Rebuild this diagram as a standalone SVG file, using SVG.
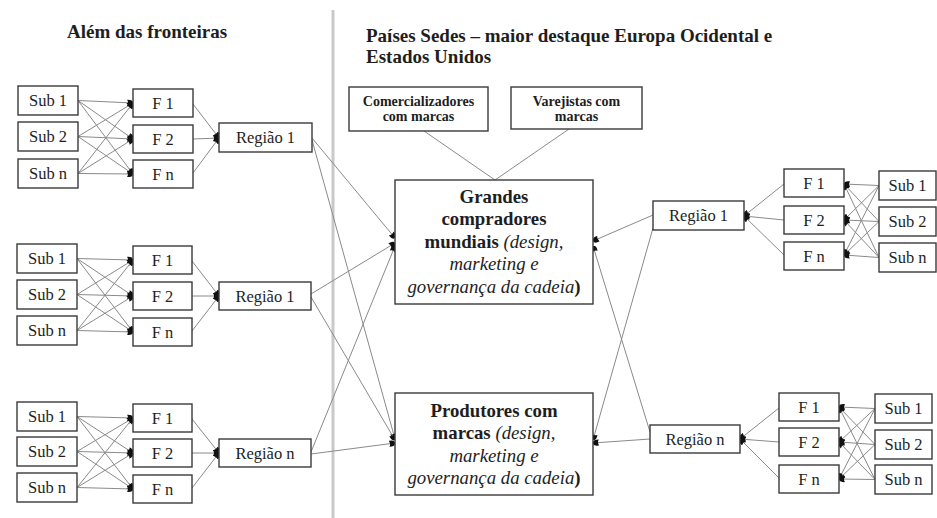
<svg xmlns="http://www.w3.org/2000/svg" width="937" height="518" viewBox="0 0 937 518">
<defs>
<style>
.bx{fill:#fff;stroke:#3a3a3a;stroke-width:1.4}
.t{font-family:"Liberation Serif","Times New Roman",serif;font-size:16.5px;fill:#1e1e1e;text-anchor:middle}
.h{font-family:"Liberation Serif","Times New Roman",serif;font-size:19px;font-weight:bold;fill:#1e1e1e}
.s{font-family:"Liberation Serif","Times New Roman",serif;font-size:14px;font-weight:bold;fill:#1e1e1e;text-anchor:middle}
.c{font-family:"Liberation Serif","Times New Roman",serif;font-size:18.8px;fill:#1e1e1e;text-anchor:middle}
.b{font-weight:bold}
.i{font-style:italic}
.ln line{stroke:#8a8a8a;stroke-width:1}
.ar{marker-end:url(#dot)}
</style>
<marker id="dot" viewBox="0 0 6 7" refX="6" refY="3.5" markerWidth="6" markerHeight="7" markerUnits="userSpaceOnUse" orient="auto">
<path d="M0,0.5 Q6,0 6,3.5 Q6,7 0,6.5 Q2,3.5 0,0.5 z" fill="#111"/>
</marker>
</defs>
<rect width="937" height="518" fill="#fff"/>

<line x1="333" y1="10" x2="333" y2="518" stroke="#c9c9c9" stroke-width="3"/>

<text class="h" x="67" y="38">Além das fronteiras</text>
<text class="h" x="366" y="42">Países Sedes – maior destaque Europa Ocidental e</text>
<text class="h" x="366" y="63">Estados Unidos</text>

<g class="ln" id="connectors">
<line class="ar" x1="78" y1="100.5" x2="133" y2="103"/>
<line class="ar" x1="78" y1="100.5" x2="133" y2="139"/>
<line class="ar" x1="78" y1="100.5" x2="133" y2="174"/>
<line class="ar" x1="78" y1="136.5" x2="133" y2="103"/>
<line class="ar" x1="78" y1="136.5" x2="133" y2="139"/>
<line class="ar" x1="78" y1="136.5" x2="133" y2="174"/>
<line class="ar" x1="78" y1="173.5" x2="133" y2="103"/>
<line class="ar" x1="78" y1="173.5" x2="133" y2="139"/>
<line class="ar" x1="78" y1="173.5" x2="133" y2="174"/>
<line class="ar" x1="193" y1="104" x2="219" y2="138"/>
<line class="ar" x1="193" y1="139" x2="219" y2="138"/>
<line class="ar" x1="193" y1="173" x2="219" y2="138"/>
<line class="ar" x1="77" y1="258.5" x2="133" y2="260"/>
<line class="ar" x1="77" y1="258.5" x2="133" y2="296"/>
<line class="ar" x1="77" y1="258.5" x2="133" y2="332"/>
<line class="ar" x1="77" y1="294.5" x2="133" y2="260"/>
<line class="ar" x1="77" y1="294.5" x2="133" y2="296"/>
<line class="ar" x1="77" y1="294.5" x2="133" y2="332"/>
<line class="ar" x1="77" y1="330.5" x2="133" y2="260"/>
<line class="ar" x1="77" y1="330.5" x2="133" y2="296"/>
<line class="ar" x1="77" y1="330.5" x2="133" y2="332"/>
<line class="ar" x1="192" y1="261" x2="219" y2="296"/>
<line class="ar" x1="192" y1="296" x2="219" y2="296"/>
<line class="ar" x1="192" y1="331" x2="219" y2="296"/>
<line class="ar" x1="77" y1="416.5" x2="133" y2="418"/>
<line class="ar" x1="77" y1="416.5" x2="133" y2="453"/>
<line class="ar" x1="77" y1="416.5" x2="133" y2="489"/>
<line class="ar" x1="77" y1="451.5" x2="133" y2="418"/>
<line class="ar" x1="77" y1="451.5" x2="133" y2="453"/>
<line class="ar" x1="77" y1="451.5" x2="133" y2="489"/>
<line class="ar" x1="77" y1="487.5" x2="133" y2="418"/>
<line class="ar" x1="77" y1="487.5" x2="133" y2="453"/>
<line class="ar" x1="77" y1="487.5" x2="133" y2="489"/>
<line class="ar" x1="192" y1="419" x2="219" y2="453"/>
<line class="ar" x1="192" y1="453" x2="219" y2="453"/>
<line class="ar" x1="192" y1="488" x2="219" y2="453"/>
<line class="ar" x1="312" y1="138" x2="395" y2="238"/>
<line class="ar" x1="312" y1="140" x2="395" y2="439"/>
<line class="ar" x1="311" y1="294" x2="395" y2="243"/>
<line class="ar" x1="311" y1="297" x2="395" y2="440"/>
<line class="ar" x1="311" y1="452" x2="395" y2="246"/>
<line class="ar" x1="311" y1="454" x2="395" y2="443"/>
<line x1="424" y1="131" x2="495" y2="180"/>
<line x1="569" y1="129" x2="495" y2="180"/>
<line class="ar" x1="653" y1="215" x2="593" y2="241"/>
<line class="ar" x1="653" y1="228" x2="593" y2="440"/>
<line class="ar" x1="650" y1="432" x2="593" y2="246"/>
<line class="ar" x1="650" y1="439" x2="593" y2="443"/>
<line class="ar" x1="784" y1="184" x2="744" y2="216"/>
<line class="ar" x1="784" y1="220" x2="744" y2="216"/>
<line class="ar" x1="784" y1="255" x2="744" y2="216"/>
<line class="ar" x1="879" y1="185.5" x2="844" y2="184"/>
<line class="ar" x1="879" y1="185.5" x2="844" y2="220"/>
<line class="ar" x1="879" y1="185.5" x2="844" y2="255"/>
<line class="ar" x1="879" y1="221.5" x2="844" y2="184"/>
<line class="ar" x1="879" y1="221.5" x2="844" y2="220"/>
<line class="ar" x1="879" y1="221.5" x2="844" y2="255"/>
<line class="ar" x1="879" y1="257.5" x2="844" y2="184"/>
<line class="ar" x1="879" y1="257.5" x2="844" y2="220"/>
<line class="ar" x1="879" y1="257.5" x2="844" y2="255"/>
<line class="ar" x1="779" y1="408" x2="740" y2="439"/>
<line class="ar" x1="779" y1="442" x2="740" y2="439"/>
<line class="ar" x1="779" y1="478" x2="740" y2="439"/>
<line class="ar" x1="875" y1="408.5" x2="839" y2="407"/>
<line class="ar" x1="875" y1="408.5" x2="839" y2="442"/>
<line class="ar" x1="875" y1="408.5" x2="839" y2="479"/>
<line class="ar" x1="875" y1="444.5" x2="839" y2="407"/>
<line class="ar" x1="875" y1="444.5" x2="839" y2="442"/>
<line class="ar" x1="875" y1="444.5" x2="839" y2="479"/>
<line class="ar" x1="875" y1="479.5" x2="839" y2="407"/>
<line class="ar" x1="875" y1="479.5" x2="839" y2="442"/>
<line class="ar" x1="875" y1="479.5" x2="839" y2="479"/>
</g>

<g id="l1-sub1"><rect class="bx" x="18" y="86" width="60" height="29"/><text class="t" x="48" y="106">Sub 1</text></g>
<g id="l1-sub2"><rect class="bx" x="18" y="122" width="60" height="29"/><text class="t" x="48" y="142">Sub 2</text></g>
<g id="l1-subn"><rect class="bx" x="18" y="159" width="60" height="29"/><text class="t" x="48" y="179">Sub n</text></g>
<g id="l1-f1"><rect class="bx" x="133" y="89" width="60" height="28"/><text class="t" x="163" y="109">F 1</text></g>
<g id="l1-f2"><rect class="bx" x="133" y="125" width="60" height="28"/><text class="t" x="163" y="145">F 2</text></g>
<g id="l1-fn"><rect class="bx" x="133" y="160" width="60" height="28"/><text class="t" x="163" y="180">F n</text></g>
<g id="l1-regiao"><rect class="bx" x="219" y="123" width="93" height="29"/><text class="t" x="265.5" y="143">Região 1</text></g>

<g id="l2-sub1"><rect class="bx" x="17" y="244" width="60" height="29"/><text class="t" x="47" y="264">Sub 1</text></g>
<g id="l2-sub2"><rect class="bx" x="17" y="280" width="60" height="29"/><text class="t" x="47" y="300">Sub 2</text></g>
<g id="l2-subn"><rect class="bx" x="17" y="316" width="60" height="29"/><text class="t" x="47" y="336">Sub n</text></g>
<g id="l2-f1"><rect class="bx" x="133" y="246" width="59" height="28"/><text class="t" x="162.5" y="266">F 1</text></g>
<g id="l2-f2"><rect class="bx" x="133" y="282" width="59" height="28"/><text class="t" x="162.5" y="302">F 2</text></g>
<g id="l2-fn"><rect class="bx" x="133" y="318" width="59" height="28"/><text class="t" x="162.5" y="338">F n</text></g>
<g id="l2-regiao"><rect class="bx" x="219" y="282" width="92" height="28"/><text class="t" x="265" y="302">Região 1</text></g>

<g id="l3-sub1"><rect class="bx" x="17" y="402" width="60" height="29"/><text class="t" x="47" y="422">Sub 1</text></g>
<g id="l3-sub2"><rect class="bx" x="17" y="437" width="60" height="29"/><text class="t" x="47" y="457">Sub 2</text></g>
<g id="l3-subn"><rect class="bx" x="17" y="473" width="60" height="29"/><text class="t" x="47" y="493">Sub n</text></g>
<g id="l3-f1"><rect class="bx" x="133" y="404" width="59" height="28"/><text class="t" x="162.5" y="424">F 1</text></g>
<g id="l3-f2"><rect class="bx" x="133" y="439" width="59" height="28"/><text class="t" x="162.5" y="459">F 2</text></g>
<g id="l3-fn"><rect class="bx" x="133" y="475" width="59" height="28"/><text class="t" x="162.5" y="495">F n</text></g>
<g id="l3-regiao"><rect class="bx" x="219" y="439" width="92" height="28"/><text class="t" x="265" y="459">Região n</text></g>

<g id="comercializadores"><rect class="bx" x="349" y="87" width="139" height="44"/><text class="s" x="418.5" y="106">Comercializadores</text><text class="s" x="418.5" y="121">com marcas</text></g>
<g id="varejistas"><rect class="bx" x="511" y="87" width="131" height="42"/><text class="s" x="576.5" y="106">Varejistas com</text><text class="s" x="576.5" y="121">marcas</text></g>

<g id="grandes"><rect class="bx" x="395" y="180" width="198" height="124"/>
<text class="c" x="494" y="203"><tspan class="b">Grandes</tspan></text>
<text class="c" x="494" y="225"><tspan class="b">compradores</tspan></text>
<text class="c" x="494" y="248"><tspan class="b">mundiais </tspan><tspan class="i">(design,</tspan></text>
<text class="c" x="494" y="270"><tspan class="i">marketing e</tspan></text>
<text class="c" x="494" y="293"><tspan class="i">governança da cadeia</tspan><tspan class="b">)</tspan></text>
</g>
<g id="produtores"><rect class="bx" x="395" y="393" width="198" height="102"/>
<text class="c" x="494" y="417"><tspan class="b">Produtores com</tspan></text>
<text class="c" x="494" y="439"><tspan class="b">marcas </tspan><tspan class="i">(design,</tspan></text>
<text class="c" x="494" y="462"><tspan class="i">marketing e</tspan></text>
<text class="c" x="494" y="484"><tspan class="i">governança da cadeia</tspan><tspan class="b">)</tspan></text>
</g>

<g id="r1-regiao"><rect class="bx" x="653" y="201" width="91" height="29"/><text class="t" x="698.5" y="221">Região 1</text></g>
<g id="r1-f1"><rect class="bx" x="784" y="169" width="60" height="28"/><text class="t" x="814" y="189">F 1</text></g>
<g id="r1-f2"><rect class="bx" x="784" y="206" width="60" height="28"/><text class="t" x="814" y="226">F 2</text></g>
<g id="r1-fn"><rect class="bx" x="784" y="242" width="60" height="28"/><text class="t" x="814" y="262">F n</text></g>
<g id="r1-sub1"><rect class="bx" x="879" y="171" width="57" height="29"/><text class="t" x="907.5" y="191">Sub 1</text></g>
<g id="r1-sub2"><rect class="bx" x="879" y="207" width="57" height="29"/><text class="t" x="907.5" y="227">Sub 2</text></g>
<g id="r1-subn"><rect class="bx" x="879" y="243" width="57" height="29"/><text class="t" x="907.5" y="263">Sub n</text></g>

<g id="r2-regiao"><rect class="bx" x="650" y="425" width="90" height="28"/><text class="t" x="695" y="445">Região n</text></g>
<g id="r2-f1"><rect class="bx" x="779" y="393" width="60" height="28"/><text class="t" x="809" y="413">F 1</text></g>
<g id="r2-f2"><rect class="bx" x="779" y="428" width="60" height="28"/><text class="t" x="809" y="448">F 2</text></g>
<g id="r2-fn"><rect class="bx" x="779" y="465" width="60" height="28"/><text class="t" x="809" y="485">F n</text></g>
<g id="r2-sub1"><rect class="bx" x="875" y="394" width="57" height="29"/><text class="t" x="903.5" y="414">Sub 1</text></g>
<g id="r2-sub2"><rect class="bx" x="875" y="430" width="57" height="29"/><text class="t" x="903.5" y="450">Sub 2</text></g>
<g id="r2-subn"><rect class="bx" x="875" y="465" width="57" height="29"/><text class="t" x="903.5" y="485">Sub n</text></g>
</svg>
